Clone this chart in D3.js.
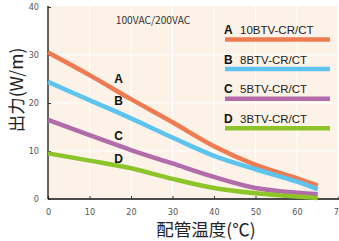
<!DOCTYPE html>
<html>
<head>
<meta charset="utf-8">
<script src="https://cdn.jsdelivr.net/npm/d3@7"></script>
<style>
  body { margin: 0; background: #fff; }
  svg { display: block; font-family: "Noto Sans CJK JP", "Noto Sans", sans-serif; }
</style>
</head>
<body>
<svg id="chart" width="339" height="241"></svg>
<script>
// temperature points (°C)
const temps = [0, 10, 20, 30, 40, 50, 60, 65];
// output (W/m) for each model
const seriesA = [30.5, 25.8, 20.8, 16.0, 11.0, 7.1, 4.3, 2.8];
const seriesB = [24.4, 20.6, 16.8, 12.8, 9.0, 6.2, 3.6, 2.0];
const seriesC = [16.5, 13.3, 10.2, 7.4, 4.6, 2.3, 1.3, 1.0];
const seriesD = [9.5, 8.0, 6.4, 4.2, 2.3, 1.2, 0.5, 0.2];

const keys = ["A", "B", "C", "D"];
const models = ["10BTV-CR/CT", "8BTV-CR/CT", "5BTV-CR/CT", "3BTV-CR/CT"];
const colors = ["#ef7b52", "#5cc4ef", "#b26ca9", "#8cc42a"];
const xTicks = [0, 10, 20, 30, 40, 50, 60, 70];
const yTicks = [0, 10, 20, 30, 40];

const svg = d3.select("#chart");
const plotL = 48, plotR = 339, plotT = 7, plotB = 199;

const x = d3.scaleLinear().domain([0, 70]).range([plotL, plotL + 70 * 4.15]);
const y = d3.scaleLinear().domain([0, 40]).range([plotB, plotT]);

// plot background
svg.append("rect")
  .attr("x", plotL).attr("y", plotT - 1)
  .attr("width", plotR - plotL).attr("height", plotB - plotT + 1)
  .attr("fill", "#fcf2e7");

// grid lines
svg.selectAll(".vgrid").data(xTicks.slice(1)).enter().append("line")
  .attr("x1", d => x(d)).attr("x2", d => x(d))
  .attr("y1", plotT - 1).attr("y2", plotB)
  .attr("stroke", "#fff").attr("stroke-width", 1.2);
svg.selectAll(".hgrid").data(yTicks.slice(1, 4)).enter().append("line")
  .attr("x1", plotL).attr("x2", plotR)
  .attr("y1", d => y(d)).attr("y2", d => y(d))
  .attr("stroke", "#fff").attr("stroke-width", 1.2);

// axes
const xAxis = d3.axisBottom(x).tickValues(xTicks).tickSize(-3).tickPadding(10);
const yAxis = d3.axisLeft(y).tickValues(yTicks).tickSize(-3).tickPadding(9);

const gx = svg.append("g").attr("transform", `translate(0,${plotB})`).call(xAxis);
const gy = svg.append("g").attr("transform", `translate(${plotL},0)`).call(yAxis);
[gx, gy].forEach(g => {
  g.select(".domain").attr("stroke", "#111").attr("stroke-width", 1.3);
  g.selectAll(".tick line").attr("stroke", "#333");
  g.selectAll(".tick text")
    .attr("fill", "#555")
    .attr("font-size", 9)
    .attr("font-family", "'Liberation Sans Narrow', 'DejaVu Sans Condensed', sans-serif");
});
gy.select(".domain").attr("d", `M0,${plotT - 1}V${plotB}`);
gx.select(".domain").attr("d", `M${plotL},0H${plotR}`);

// lines
const allSeries = [seriesA, seriesB, seriesC, seriesD];
const line = d3.line()
  .x((d, i) => x(temps[i]))
  .y(d => y(d))
  .curve(d3.curveCatmullRom.alpha(0.5));

allSeries.forEach((s, i) => {
  svg.append("path")
    .datum(s)
    .attr("d", line)
    .attr("fill", "none")
    .attr("stroke", colors[i])
    .attr("stroke-width", 4.5);
});

// inline labels
const inlineY = [25, 20.4, 13.2, 8.4];
keys.forEach((k, i) => {
  svg.append("text")
    .attr("x", x(17)).attr("y", y(inlineY[i]))
    .attr("dy", "0.35em")
    .attr("text-anchor", "middle")
    .attr("font-size", 12).attr("font-weight", "bold")
    .attr("font-family", "'Liberation Sans', Arial, sans-serif")
    .attr("fill", "#111")
    .text(k);
});

// voltage note
svg.append("text")
  .attr("x", 153).attr("y", 24)
  .attr("text-anchor", "middle")
  .attr("font-size", 10.2)
  .attr("fill", "#333")
  .text("100VAC/200VAC");

// legend
const legend = svg.append("g");
keys.forEach((k, i) => {
  const ly = 34 + i * 29.6;
  legend.append("text")
    .attr("x", 224).attr("y", ly)
    .attr("font-size", 12).attr("font-weight", "bold")
    .attr("font-family", "'Liberation Sans', Arial, sans-serif")
    .attr("fill", "#111")
    .text(k);
  legend.append("text")
    .attr("x", 240).attr("y", ly)
    .attr("font-size", 11.5)
    .attr("font-family", "'Liberation Sans', Arial, sans-serif")
    .attr("fill", "#222")
    .text(models[i]);
  legend.append("line")
    .attr("x1", 225).attr("x2", 330)
    .attr("y1", ly + 5.5).attr("y2", ly + 5.5)
    .attr("stroke", colors[i]).attr("stroke-width", 4.5);
});

// axis titles
svg.append("text")
  .attr("transform", "translate(23,90) rotate(-90)")
  .attr("text-anchor", "middle")
  .attr("font-size", 17.5)
  .attr("fill", "#222")
  .text("出力(W/m)");

svg.append("text")
  .attr("x", 206).attr("y", 236)
  .attr("text-anchor", "middle")
  .attr("font-size", 17.5)
  .attr("fill", "#222")
  .text("配管温度(℃)");
</script>
</body>
</html>
